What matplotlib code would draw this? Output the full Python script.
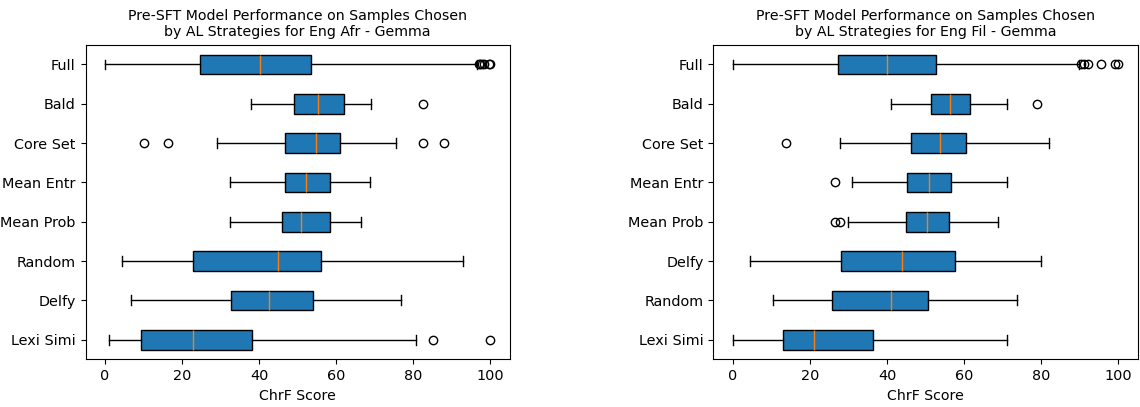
import matplotlib
matplotlib.use("Agg")
import matplotlib.pyplot as plt

# Estadísticos (de arriba hacia abajo)
labels_afr = ["Full", "Bald", "Core Set", "Mean Entr", "Mean Prob", "Random", "Delfy", "Lexi Simi"]
whislo_afr = [0.0, 37.9, 29.1, 32.4, 32.4, 4.4, 6.9, 1.1]
q1_afr = [24.6, 49.0, 46.8, 46.8, 46.0, 22.9, 32.8, 9.5]
med_afr = [40.2, 55.4, 54.7, 52.2, 51.0, 45.0, 42.5, 22.9]
q3_afr = [53.4, 61.9, 61.0, 58.4, 58.4, 56.1, 54.1, 38.2]
whishi_afr = [96.6, 68.9, 75.4, 68.8, 66.3, 92.8, 76.7, 80.7]
fliers_afr = [[97.0, 97.4, 97.8, 98.2, 99.6, 100.0], [82.6], [10.1, 16.5, 82.6, 87.9],
              [], [], [], [], [85.0, 100.0]]

labels_fil = ["Full", "Bald", "Core Set", "Mean Entr", "Mean Prob", "Delfy", "Random", "Lexi Simi"]
whislo_fil = [0.0, 41.1, 27.8, 31.0, 29.9, 4.5, 10.4, 0.0]
q1_fil = [27.2, 51.4, 46.2, 45.2, 45.0, 28.2, 25.7, 13.1]
med_fil = [40.1, 56.3, 53.8, 50.9, 50.3, 43.8, 41.1, 21.1]
q3_fil = [52.8, 61.6, 60.6, 56.5, 56.1, 57.5, 50.6, 36.4]
whishi_fil = [89.9, 71.1, 82.1, 71.0, 68.9, 79.9, 73.6, 71.2]
fliers_fil = [[90.3, 91.2, 92.0, 95.6, 99.2, 99.8], [78.9], [13.8], [26.6],
              [26.4, 27.9], [], [], []]


def build_stats(labels, lo, q1, med, q3, hi, fliers):
    stats = []
    for i in range(len(labels)):
        stats.append(dict(label=labels[i], whislo=lo[i], q1=q1[i], med=med[i],
                          q3=q3[i], whishi=hi[i], fliers=fliers[i]))
    # boxplot horizontal: el primero queda abajo
    return stats[::-1]


fig, axes = plt.subplots(1, 2, figsize=(11.4, 4.07), dpi=100)
fig.subplots_adjust(left=0.075, right=0.998, top=0.89, bottom=0.117, wspace=0.48)

panels = [
    (axes[0], build_stats(labels_afr, whislo_afr, q1_afr, med_afr, q3_afr, whishi_afr, fliers_afr),
     "Pre-SFT Model Performance on Samples Chosen\nby AL Strategies for Eng Afr - Gemma"),
    (axes[1], build_stats(labels_fil, whislo_fil, q1_fil, med_fil, q3_fil, whishi_fil, fliers_fil),
     "Pre-SFT Model Performance on Samples Chosen\nby AL Strategies for Eng Fil - Gemma"),
]

for ax, stats, title in panels:
    ax.bxp(stats, vert=False, patch_artist=True, widths=0.5)
    ax.set_title(title, fontsize=10.2)
    ax.set_xlabel("ChrF Score", fontsize=10.2)
    ax.set_xticks([0, 20, 40, 60, 80, 100])
    ax.set_xlim(-5, 105)
    ax.tick_params(labelsize=10.4)

plt.savefig("out.png", dpi=100)
plt.close()
